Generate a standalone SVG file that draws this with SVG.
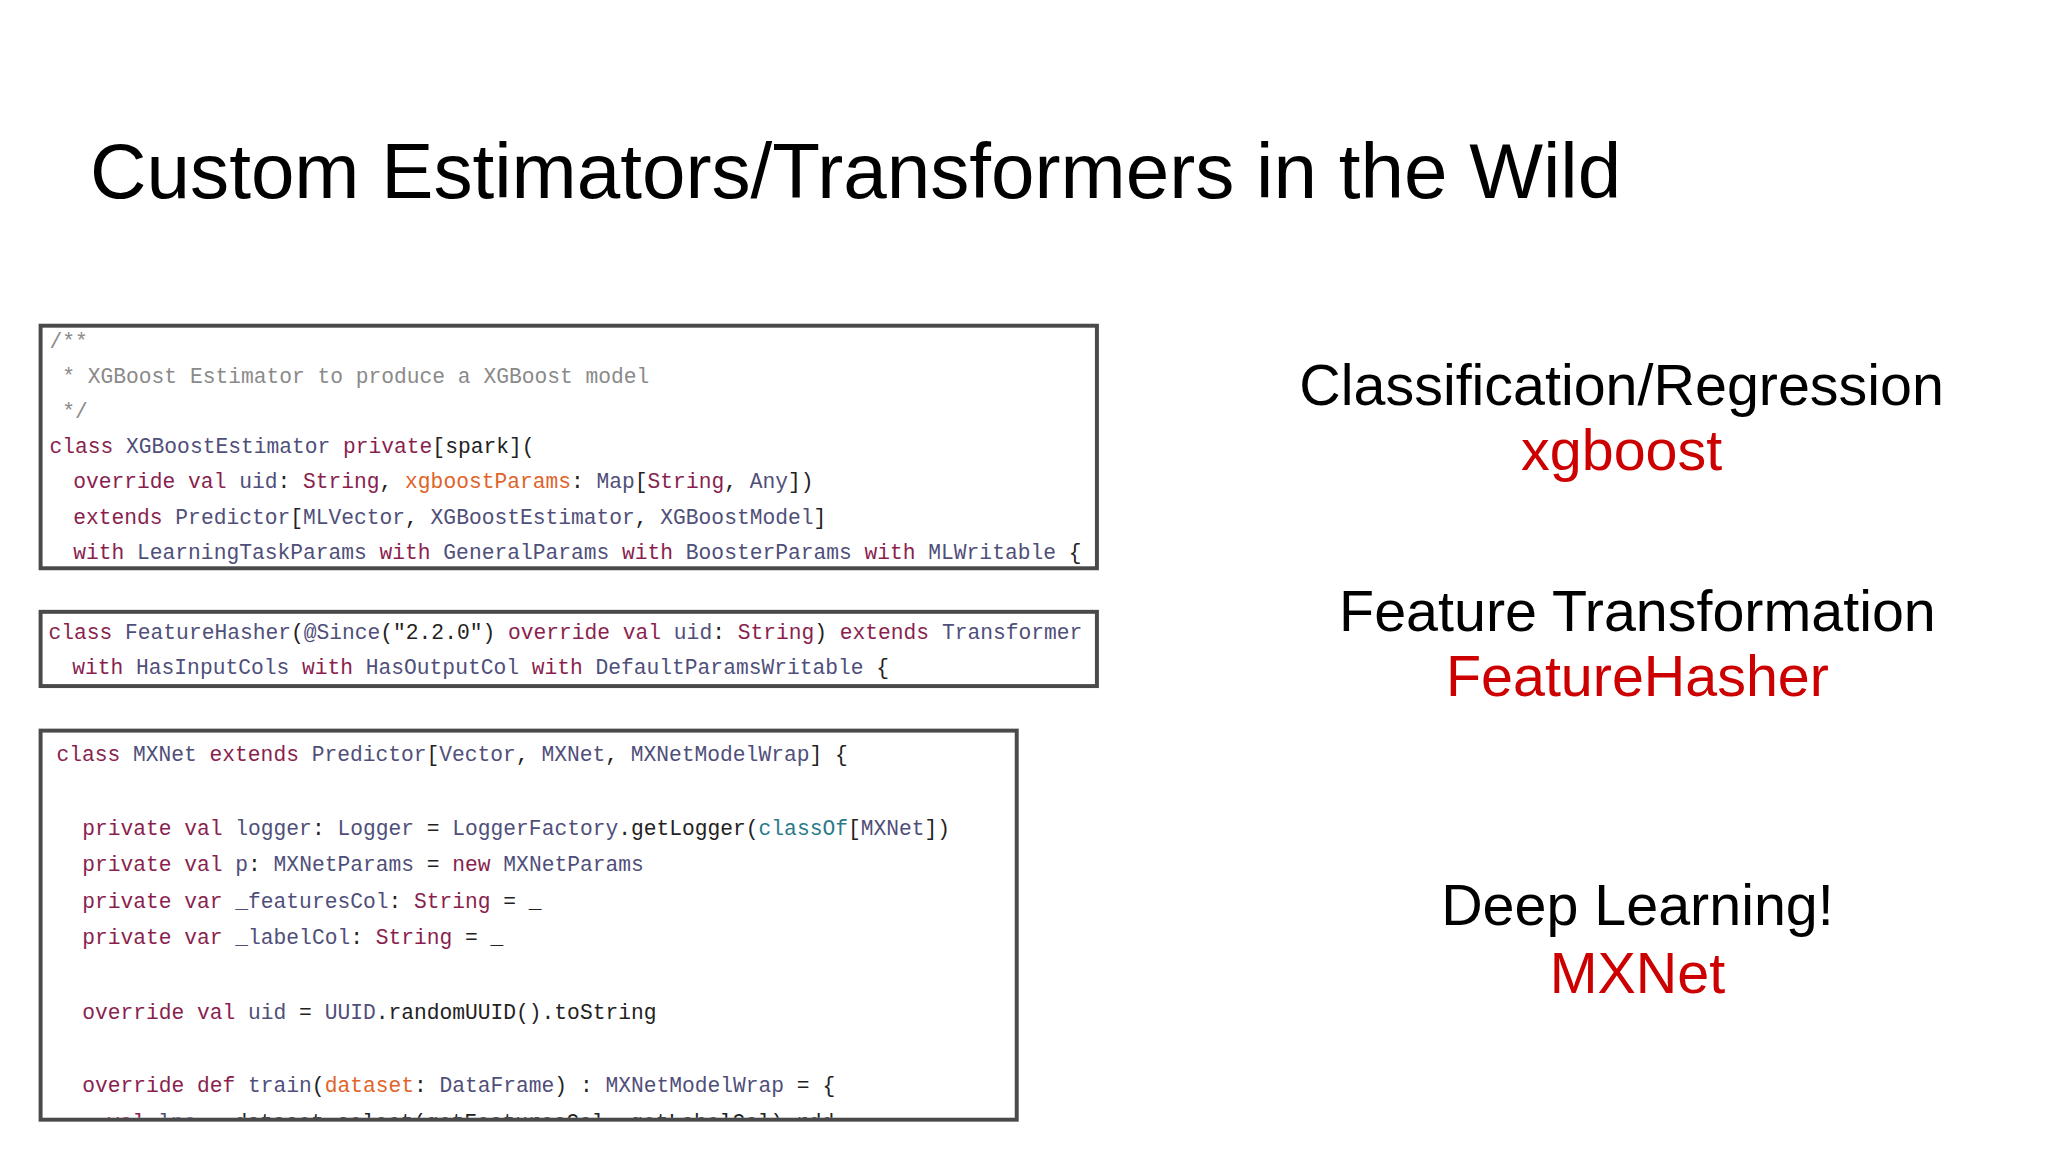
<svg xmlns="http://www.w3.org/2000/svg" width="2048" height="1152" viewBox="0 0 2048 1152">
<defs>
<style>
.t{font-family:"Liberation Sans",Arial,sans-serif;fill:#000}
.r{font-family:"Liberation Sans",Arial,sans-serif;fill:#cc0000}
.c{font-family:"Liberation Mono","DejaVu Sans Mono",monospace;font-size:21.5px;fill:#222}
.k{fill:#8a1f4f}.i{fill:#4f4f7a}.g{fill:#8a8a8a}.o{fill:#e0632a}.b{fill:#2a7a8a}
.box{fill:#fff;stroke:#4a4a4a;stroke-width:4}
</style>
<clipPath id="cp3"><rect x="43" y="740" width="982" height="389"/></clipPath>
</defs>
<rect width="2048" height="1152" fill="#fff"/>
<g transform="scale(0.99)">
<text class="t" x="91" y="200" font-size="79">Custom Estimators/Transformers in the Wild</text>
<g id="code1">
<rect class="box" x="41" y="329" width="1067" height="245"/>
<text class="c" x="50" y="352"><tspan class="g">/**</tspan></text>
<text class="c" x="50" y="387" xml:space="preserve"><tspan class="g"> * XGBoost Estimator to produce a XGBoost model</tspan></text>
<text class="c" x="50" y="422" xml:space="preserve"><tspan class="g"> */</tspan></text>
<text class="c" x="50" y="458"><tspan class="k">class</tspan> <tspan class="i">XGBoostEstimator</tspan> <tspan class="k">private</tspan>[spark](</text>
<text class="c" x="74" y="493"><tspan class="k">override val</tspan> <tspan class="i">uid</tspan>: <tspan class="k">String</tspan>, <tspan class="o">xgboostParams</tspan>: <tspan class="i">Map</tspan>[<tspan class="k">String</tspan>, <tspan class="i">Any</tspan>])</text>
<text class="c" x="74" y="529"><tspan class="k">extends</tspan> <tspan class="i">Predictor</tspan>[<tspan class="i">MLVector</tspan>, <tspan class="i">XGBoostEstimator</tspan>, <tspan class="i">XGBoostModel</tspan>]</text>
<text class="c" x="74" y="565"><tspan class="k">with</tspan> <tspan class="i">LearningTaskParams</tspan> <tspan class="k">with</tspan> <tspan class="i">GeneralParams</tspan> <tspan class="k">with</tspan> <tspan class="i">BoosterParams</tspan> <tspan class="k">with</tspan> <tspan class="i">MLWritable</tspan> {</text>
</g>
<g id="code2">
<rect class="box" x="41" y="618" width="1067" height="75"/>
<text class="c" x="49" y="645"><tspan class="k">class</tspan> <tspan class="i">FeatureHasher</tspan>(<tspan class="i">@Since</tspan>("2.2.0") <tspan class="k">override val</tspan> <tspan class="i">uid</tspan>: <tspan class="k">String</tspan>) <tspan class="k">extends</tspan> <tspan class="i">Transformer</tspan></text>
<text class="c" x="73" y="681"><tspan class="k">with</tspan> <tspan class="i">HasInputCols</tspan> <tspan class="k">with</tspan> <tspan class="i">HasOutputCol</tspan> <tspan class="k">with</tspan> <tspan class="i">DefaultParamsWritable</tspan> {</text>
</g>
<g id="code3">
<rect class="box" x="41" y="738" width="986" height="393"/>
<g clip-path="url(#cp3)">
<text class="c" x="57" y="769"><tspan class="k">class</tspan> <tspan class="i">MXNet</tspan> <tspan class="k">extends</tspan> <tspan class="i">Predictor</tspan>[<tspan class="i">Vector</tspan>, <tspan class="i">MXNet</tspan>, <tspan class="i">MXNetModelWrap</tspan>] {</text>
<text class="c" x="83" y="843"><tspan class="k">private val</tspan> <tspan class="i">logger</tspan>: <tspan class="i">Logger</tspan> = <tspan class="i">LoggerFactory</tspan>.getLogger(<tspan class="b">classOf</tspan>[<tspan class="i">MXNet</tspan>])</text>
<text class="c" x="83" y="880"><tspan class="k">private val</tspan> <tspan class="i">p</tspan>: <tspan class="i">MXNetParams</tspan> = <tspan class="k">new</tspan> <tspan class="i">MXNetParams</tspan></text>
<text class="c" x="83" y="917"><tspan class="k">private var</tspan> <tspan class="i">_featuresCol</tspan>: <tspan class="k">String</tspan> = _</text>
<text class="c" x="83" y="954"><tspan class="k">private var</tspan> <tspan class="i">_labelCol</tspan>: <tspan class="k">String</tspan> = _</text>
<text class="c" x="83" y="1029"><tspan class="k">override val</tspan> <tspan class="i">uid</tspan> = <tspan class="i">UUID</tspan>.randomUUID().toString</text>
<text class="c" x="83" y="1103"><tspan class="k">override def</tspan> <tspan class="i">train</tspan>(<tspan class="o">dataset</tspan>: <tspan class="i">DataFrame</tspan>) : <tspan class="i">MXNetModelWrap</tspan> = {</text>
<text class="c" x="108" y="1140"><tspan class="k">val</tspan> <tspan class="i">lps</tspan> = dataset.select(getFeaturesCol, getLabelCol).rdd</text>
</g>
</g>
<g id="labels">
<text class="t" x="1638" y="409" font-size="58" text-anchor="middle">Classification/Regression</text>
<text class="r" x="1638" y="475" font-size="58" text-anchor="middle">xgboost</text>
<text class="t" x="1654" y="637" font-size="58" text-anchor="middle">Feature Transformation</text>
<text class="r" x="1654" y="703" font-size="58" text-anchor="middle">FeatureHasher</text>
<text class="t" x="1654" y="934" font-size="58" text-anchor="middle">Deep Learning!</text>
<text class="r" x="1654" y="1003" font-size="58" text-anchor="middle">MXNet</text>
</g>
</g>
</svg>
